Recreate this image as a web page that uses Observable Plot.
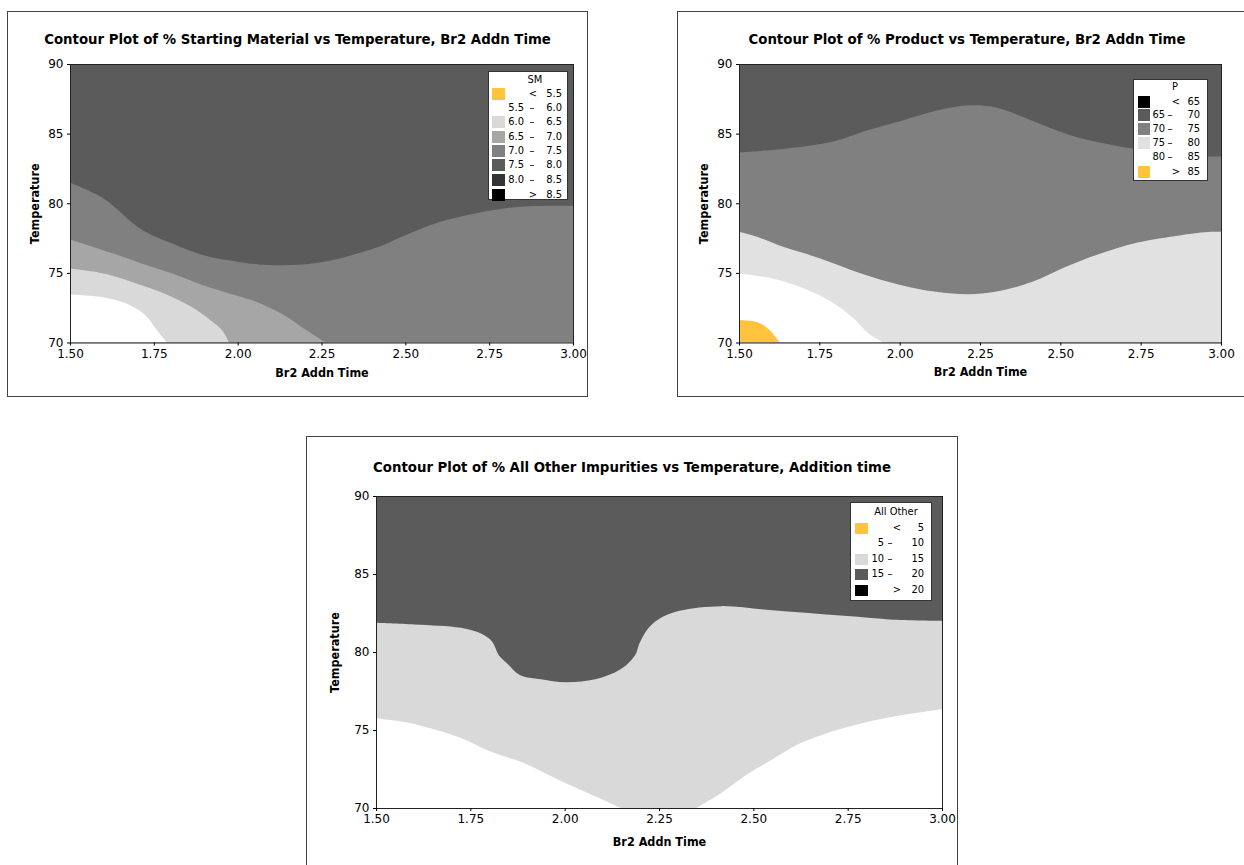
<!DOCTYPE html>
<html>
<head>
<meta charset="utf-8">
<script src="https://cdn.jsdelivr.net/npm/d3@7"></script>
<script src="https://cdn.jsdelivr.net/npm/@observablehq/plot@0.6"></script>
<style>
  body { margin: 0; background: #fff; }
  #page { position: relative; width: 1244px; height: 865px; overflow: hidden; background: #fff; }
  .box { position: absolute; border: 1px solid #444; box-sizing: border-box; }
  .chart { position: absolute; }
  .title { position: absolute; text-align: center; font-family: "DejaVu Sans Condensed", "DejaVu Sans", sans-serif; font-stretch: condensed; font-weight: bold; font-size: 14.8px; line-height: 18px; color: #000; white-space: nowrap; }
  .legend { position: absolute; background: #fff; border: 1px solid #333; box-sizing: border-box; }
  .lt { position: absolute; font-family: "DejaVu Sans Condensed", "DejaVu Sans", sans-serif; font-stretch: condensed; font-size: 11px; line-height: 12px; color: #000; white-space: nowrap; }
  .sw { position: absolute; }
</style>
</head>
<body>
<div id="page"></div>
<script>
// ---------- shared axes ----------
const xDomain = [1.5, 3.0];
const yDomain = [70, 90];
const xTicks = [1.5, 1.75, 2.0, 2.25, 2.5, 2.75, 3.0];
const yTicks = [70, 75, 80, 85, 90];

// ---------- Panel 1: % Starting Material (SM) ----------
// contour boundaries [Br2 Addn Time, Temperature]; region below each boundary
const smEdge75 = [[1.5,81.47],[1.6,80.35],[1.713,78.12],[1.805,77.11],[1.896,76.28],[1.999,75.8],[2.09,75.56],[2.239,75.72],[2.421,76.87],[2.49,77.59],[2.604,78.67],[2.775,79.56],[2.889,79.8],[3.0,79.82]];
const smEdge70 = [[1.5,77.4],[1.634,76.35],[1.713,75.68],[1.805,74.96],[1.896,74.12],[1.999,73.35],[2.068,72.8],[2.147,71.84],[2.204,70.89],[2.262,70]];
const smEdge65 = [[1.5,75.32],[1.611,74.91],[1.713,74.12],[1.781,73.52],[1.862,72.56],[1.919,71.6],[1.953,70.89],[1.974,70]];
const smEdge60 = [[1.5,73.45],[1.588,73.28],[1.668,72.8],[1.725,71.96],[1.759,70.89],[1.788,70]];
const smBreaks = [5.5, 6.0, 6.5, 7.0, 7.5, 8.0, 8.5];

// ---------- Panel 2: % Product (P) ----------
const pEdge70 = [[1.5,83.65],[1.602,83.82],[1.718,84.13],[1.799,84.47],[1.903,85.26],[2.007,85.93],[2.123,86.69],[2.216,87.03],[2.297,86.89],[2.413,85.93],[2.529,84.9],[2.644,84.25],[2.76,83.8],[2.88,83.45],[3.0,83.35]];
const pEdge75 = [[1.5,77.95],[1.556,77.59],[1.637,76.87],[1.753,76.04],[1.88,74.96],[1.996,74.17],[2.112,73.64],[2.216,73.47],[2.297,73.64],[2.413,74.36],[2.505,75.32],[2.621,76.35],[2.737,77.16],[2.876,77.71],[2.969,77.95],[3.0,77.95]];
const pEdge80 = [[1.5,74.96],[1.602,74.6],[1.695,73.95],[1.787,72.92],[1.857,71.72],[1.903,70.65],[1.95,70]];
const pEdge85 = [[1.5,71.6],[1.556,71.48],[1.59,71.0],[1.613,70.41],[1.627,70]];
const pBreaks = [65, 70, 75, 80, 85];

// ---------- Panel 3: % All Other Impurities ----------
const aoEdge15 = [[1.5,81.88],[1.602,81.77],[1.725,81.55],[1.781,81.15],[1.808,80.66],[1.825,79.81],[1.847,79.28],[1.881,78.53],[1.937,78.25],[2.003,78.06],[2.081,78.25],[2.148,78.89],[2.187,79.81],[2.198,80.55],[2.221,81.51],[2.248,82.09],[2.304,82.64],[2.415,82.94],[2.527,82.72],[2.638,82.51],[2.749,82.3],[2.861,82.09],[3.0,82.0]];
const aoEdge10Left = [[1.5,75.76],[1.569,75.54],[1.636,75.16],[1.725,74.48],[1.803,73.62],[1.892,72.88],[1.992,71.71],[2.081,70.75],[2.148,70]];
const aoEdge10Right = [[2.349,70],[2.415,70.96],[2.482,72.13],[2.549,73.09],[2.616,74.05],[2.683,74.69],[2.772,75.33],[2.861,75.82],[3.0,76.33]];
const aoBreaks = [5, 10, 15, 20];

// ---------- colours ----------
const yellow = "#ffc43b";
const g80 = "#333333", g75 = "#5b5b5b", g70 = "#808080", g65 = "#a6a6a6", g60 = "#d9d9d9", g60b = "#e1e1e1";

const page = document.getElementById("page");
const tickFont = '"DejaVu Sans", sans-serif';
const labelFont = '"DejaVu Sans Condensed", "DejaVu Sans", sans-serif';

function contour(cfg) {
  const marks = [
    Plot.rect([xDomain], {x1: d => d[0], x2: d => d[1], y1: yDomain[0], y2: yDomain[1], fill: cfg.topFill}),
    ...cfg.layers.map(L => Plot.areaY(L.data, {x: d => d[0], y1: yDomain[0], y2: d => d[1], fill: L.fill, curve: "catmull-rom", clip: true})),
    Plot.frame({stroke: "#222", strokeWidth: 1}),
    Plot.axisX({ticks: xTicks, tickFormat: d3.format(".2f"), tickSize: 3, tickPadding: 3, label: null, fontSize: 12}),
    Plot.axisY({ticks: yTicks, tickSize: 3, tickPadding: 4, label: null, fontSize: 12}),
    Plot.text(["Br2 Addn Time"], {text: d => d, frameAnchor: "bottom", textAnchor: "middle", lineAnchor: "middle", dy: cfg.xlabelDy, fontWeight: "bold", fontSize: 12.5, fontFamily: labelFont}),
    Plot.text(["Temperature"], {text: d => d, frameAnchor: "left", textAnchor: "middle", lineAnchor: "middle", dx: cfg.ylabelDx, rotate: -90, fontWeight: "bold", fontSize: 12.5, fontFamily: labelFont})
  ];
  const svg = Plot.plot({
    width: cfg.width, height: cfg.height,
    marginLeft: cfg.ml, marginRight: cfg.mr, marginTop: cfg.mt, marginBottom: cfg.mb,
    x: {domain: xDomain}, y: {domain: yDomain},
    style: {fontFamily: tickFont, fontSize: "12px", color: "#000", background: "transparent", overflow: "visible"},
    marks
  });
  const box = document.createElement("div");
  box.className = "box";
  Object.assign(box.style, {left: cfg.bx + "px", top: cfg.by + "px", width: cfg.bw + "px", height: cfg.bh + "px"});
  page.appendChild(box);
  svg.classList.add("chart");
  svg.style.left = cfg.bx + "px"; svg.style.top = cfg.by + "px";
  page.appendChild(svg);
  const t = document.createElement("div");
  t.className = "title";
  t.textContent = cfg.title;
  Object.assign(t.style, {left: cfg.bx + "px", width: cfg.bw + "px", top: (cfg.titleY - 9) + "px"});
  page.appendChild(t);
}

function legendLabels(breaks, fmt) {
  const rows = [{op: "<", lo: "", hi: fmt(breaks[0])}];
  for (let i = 1; i < breaks.length; i++) rows.push({op: "–", lo: fmt(breaks[i - 1]), hi: fmt(breaks[i])});
  rows.push({op: ">", lo: "", hi: fmt(breaks[breaks.length - 1])});
  return rows;
}

function legend(cfg) {
  const L = document.createElement("div");
  L.className = "legend";
  Object.assign(L.style, {left: cfg.x + "px", top: cfg.y + "px", width: cfg.w + "px", height: cfg.h + "px"});
  page.appendChild(L);
  const txt = (s, x, y, align) => {
    const d = document.createElement("div");
    d.className = "lt";
    d.textContent = s;
    const w = 60;
    let left = align === "right" ? x - w : x - w / 2;
    Object.assign(d.style, {left: left + "px", top: (y - 6) + "px", width: w + "px", textAlign: align});
    page.appendChild(d);
  };
  txt(cfg.title, cfg.titleX, cfg.titleY, "center");
  cfg.labels.forEach((r, i) => {
    const y = cfg.rowY[i];
    const c = cfg.colors[i];
    if (c !== "#ffffff") {
      const s = document.createElement("div");
      s.className = "sw";
      Object.assign(s.style, {left: cfg.swX + "px", top: (y - cfg.swH / 2) + "px", width: cfg.swW + "px", height: cfg.swH + "px", background: c});
      page.appendChild(s);
    }
    if (r.lo) txt(r.lo, cfg.loR, y, "right");
    txt(r.op, r.op === "–" ? cfg.dashX : cfg.cmpX, y, "center");
    txt(r.hi, cfg.hiR, y, "right");
  });
}

// Panel 1
contour({
  bx: 7, by: 11, bw: 581, bh: 386, width: 581, height: 386,
  ml: 63, mr: 15, mt: 53, mb: 54.5,
  topFill: g75, xlabelDy: 29.5, ylabelDx: -36,
  title: "Contour Plot of % Starting Material vs Temperature, Br2 Addn Time", titleY: 39,
  layers: [{data: smEdge75, fill: g70}, {data: smEdge70, fill: g65}, {data: smEdge65, fill: g60}, {data: smEdge60, fill: "#ffffff"}]
});
legend({
  x: 488, y: 71, w: 80, h: 129, title: "SM", titleX: 535, titleY: 80,
  rowY: [94, 107.5, 122, 136.5, 151, 165, 180, 194.5],
  swX: 492, swW: 13, swH: 12, loR: 524, dashX: 532, cmpX: 533, hiR: 562,
  colors: [yellow, "#ffffff", g60, g65, g70, g75, g80, "#000000"],
  labels: legendLabels(smBreaks, d => d.toFixed(1))
});

// Panel 2
contour({
  bx: 677, by: 11, bw: 580, bh: 386, width: 567, height: 386,
  ml: 62, mr: 23, mt: 53, mb: 54.5,
  topFill: g75, xlabelDy: 28.5, ylabelDx: -36,
  title: "Contour Plot of % Product vs Temperature, Br2 Addn Time", titleY: 39,
  layers: [{data: pEdge70, fill: g70}, {data: pEdge75, fill: g60b}, {data: pEdge80, fill: "#ffffff"}, {data: pEdge85, fill: yellow}]
});
legend({
  x: 1133, y: 79, w: 75, h: 102, title: "P", titleX: 1175, titleY: 87,
  rowY: [101.7, 115, 129.3, 143.3, 157.3, 171.7],
  swX: 1137.5, swW: 12, swH: 12, loR: 1165, dashX: 1170, cmpX: 1176, hiR: 1200,
  colors: ["#000000", g75, g70, g60b, "#ffffff", yellow],
  labels: legendLabels(pBreaks, d => String(d))
});

// Panel 3
contour({
  bx: 306, by: 436, bw: 652, bh: 440, width: 652, height: 429,
  ml: 70, mr: 16, mt: 60, mb: 57,
  topFill: g75, xlabelDy: 33, ylabelDx: -42,
  title: "Contour Plot of % All Other Impurities vs Temperature, Addition time", titleY: 467,
  layers: [{data: aoEdge15, fill: g60}, {data: aoEdge10Left, fill: "#ffffff"}, {data: aoEdge10Right, fill: "#ffffff"}]
});
legend({
  x: 850, y: 502, w: 82, h: 99, title: "All Other", titleX: 896, titleY: 512,
  rowY: [528.3, 543.3, 559, 574, 590],
  swX: 854.5, swW: 13.5, swH: 11, loR: 884, dashX: 890, cmpX: 897, hiR: 924,
  colors: [yellow, "#ffffff", g60, g75, "#000000"],
  labels: legendLabels(aoBreaks, d => String(d))
});
</script>
</body>
</html>
